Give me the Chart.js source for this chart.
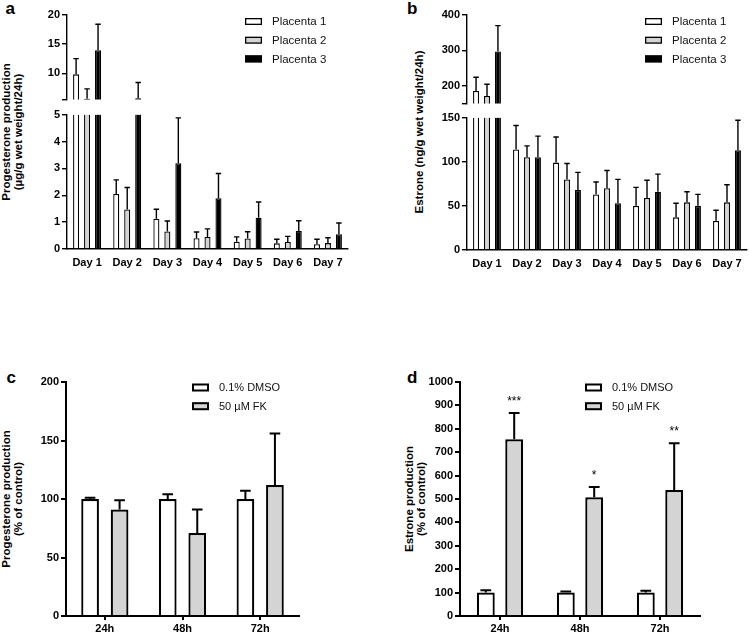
<!DOCTYPE html>
<html>
<head>
<meta charset="utf-8">
<script src="https://cdn.jsdelivr.net/npm/chart.js@4.4.1/dist/chart.umd.min.js"></script>
<style>
body { margin:0; background:#fff; width:749px; height:633px; overflow:hidden; position:relative;
       font-family:"Liberation Sans", Arial, sans-serif; color:#000; }
canvas { position:absolute; }
.letter { position:absolute; font-weight:bold; font-size:17px; line-height:17px; }
.ytitle { position:absolute; font-weight:bold; font-size:11.5px; line-height:11.5px; text-align:center;
          white-space:nowrap; transform:translate(-50%,-50%) rotate(-90deg); }
</style>
</head>
<body>
<div class="letter" style="left:5.5px;top:0px">a</div>
<div class="letter" style="left:407px;top:0px">b</div>
<div class="letter" style="left:6.5px;top:369px">c</div>
<div class="letter" style="left:407px;top:369px">d</div>
<div class="ytitle" style="left:11.5px;top:132px">Progesterone production<br>(µg/g wet weight/24h)</div>
<div class="ytitle" style="left:420px;top:132px">Estrone (ng/g wet weight/24h)</div>
<div class="ytitle" style="left:12px;top:499px">Progesterone production<br>(% of control)</div>
<div class="ytitle" style="left:414.5px;top:499px">Estrone production<br>(% of control)</div>
<script>
// ---- data (mean and SD) ----
var days = ["Day 1", "Day 2", "Day 3", "Day 4", "Day 5", "Day 6", "Day 7"];
var placentas = ["Placenta 1", "Placenta 2", "Placenta 3"];

// a: progesterone, µg/g wet weight/24h
var progP1 = [9.8, 2.05, 1.13, 0.40, 0.27, 0.21, 0.18];
var progP2 = [5.6, 1.47, 0.65, 0.45, 0.39, 0.26, 0.22];
var progP3 = [13.95, 5.7, 3.19, 1.89, 1.16, 0.67, 0.55];
var progP1Sd = [2.7, 0.52, 0.35, 0.23, 0.18, 0.15, 0.18];
var progP2Sd = [1.7, 0.82, 0.39, 0.30, 0.25, 0.21, 0.20];
var progP3Sd = [4.45, 2.7, 1.69, 0.92, 0.59, 0.38, 0.42];

// b: estrone, ng/g wet weight/24h
var estP1 = [185, 114, 99, 63, 50, 37, 33];
var estP2 = [171, 105, 80, 70, 59, 54, 54];
var estP3 = [297, 105, 68, 53, 66, 50, 113];
var estP1Sd = [39, 27, 29, 14, 21, 16, 12];
var estP2Sd = [33, 13, 18, 20, 20, 12, 20];
var estP3Sd = [73, 24, 20, 27, 20, 13, 34];

// c, d: % of control
var hours = ["24h", "48h", "72h"];
var treatments = ["0.1% DMSO", "50 µM FK"];
var progDMSO = [100, 100, 100];
var progDMSOSd = [1, 4, 7];
var progFK = [91, 71, 112];
var progFKSd = [8, 20, 44];
var estDMSO = [100, 100, 100];
var estDMSOSd = [10, 5, 8];
var estFK = [755, 507, 538];
var estFKSd = [112, 44, 200];
var estFKStars = ["***", "*", "**"];

// axis ticks
var progLowTicks = [0, 1, 2, 3, 4, 5];
var progHighTicks = [5.5, 10, 15, 20];
var estLowTicks = [0, 50, 100, 150];
var estHighTicks = [150, 200, 300, 400];
var pctTicksC = [0, 50, 100, 150, 200];
var pctTicksD = [0, 100, 200, 300, 400, 500, 600, 700, 800, 900, 1000];

var FONT = '"Liberation Sans", Arial, sans-serif';
var AXIS_W = 42;
var WHITE = "#ffffff", GREY = "#d4d4d4", BLACK = "#000000";

// error bars drawn up from each bar top
var errorBars = {
  id: "errorBars",
  afterDatasetsDraw: function(chart, args, opts) {
    var ctx = chart.ctx;
    chart.data.datasets.forEach(function(ds, i) {
      if (!ds.sd) return;
      var meta = chart.getDatasetMeta(i);
      var ys = chart.scales[meta.yAxisID];
      meta.data.forEach(function(bar, j) {
        var m = ds.mean[j];
        if (m < ys.min || m > ys.max) return;
        var y0 = ys.getPixelForValue(m);
        var y1 = ys.getPixelForValue(m + ds.sd[j]);
        var cw = bar.width * opts.cap / 2;
        ctx.save();
        ctx.strokeStyle = "#000";
        ctx.lineWidth = opts.width;
        ctx.beginPath();
        ctx.moveTo(bar.x, y0);
        ctx.lineTo(bar.x, y1);
        ctx.moveTo(bar.x - cw, y1);
        ctx.lineTo(bar.x + cw, y1);
        ctx.stroke();
        if (ds.stars) {
          ctx.fillStyle = "#000";
          ctx.font = "12px " + FONT;
          ctx.textAlign = "center";
          ctx.textBaseline = "alphabetic";
          ctx.fillText(ds.stars[j], bar.x, y1 - 8);
        }
        ctx.restore();
      });
    });
  }
};

// legend boxes at fixed page positions
var boxLegend = {
  id: "boxLegend",
  afterDraw: function(chart, args, opts) {
    if (!opts || !opts.x) return;
    var ctx = chart.ctx;
    var ox = chart.canvas.offsetLeft, oy = chart.canvas.offsetTop;
    chart.data.datasets.forEach(function(ds, i) {
      var cy = opts.y + i * opts.gap - oy;
      var bx = opts.x - ox;
      ctx.save();
      ctx.fillStyle = ds.backgroundColor;
      ctx.fillRect(bx, cy - opts.bh / 2, opts.bw, opts.bh);
      ctx.strokeStyle = "#000";
      ctx.lineWidth = opts.lw;
      ctx.strokeRect(bx + opts.lw / 2, cy - opts.bh / 2 + opts.lw / 2, opts.bw - opts.lw, opts.bh - opts.lw);
      ctx.fillStyle = "#111";
      ctx.font = opts.size + "px " + FONT;
      ctx.textBaseline = "middle";
      ctx.fillText(ds.label, bx + opts.tx, cy + 0.5);
      ctx.restore();
    });
  }
};

// bars above "hi" are cut at the break and drawn without a top edge
function makeSets(names, means, sds, colors, lo, hi, bw) {
  return names.map(function(n, k) {
    return {
      label: n,
      data: means[k].map(function(v) { return v > hi ? hi : (v < lo ? null : v); }),
      mean: means[k],
      sd: sds[k],
      backgroundColor: colors[k],
      borderColor: "#000",
      borderWidth: function(ctx) {
        var v = means[k][ctx.dataIndex];
        return v > hi ? { left: bw, right: bw, top: 0, bottom: 0 } : bw;
      }
    };
  });
}

function makeChart(c) {
  var L = c.area[0], T = c.area[1], R = c.area[2], B = c.area[3];
  var padR = 2;
  var xH = c.showX ? c.xHeight : 0;
  var left = L - AXIS_W, top = T - c.padTop;
  var w = R + padR - left, h = B + xH + c.padBottom - top;
  var cv = document.createElement("canvas");
  cv.width = w; cv.height = h;
  cv.style.left = left + "px"; cv.style.top = top + "px";
  cv.style.width = w + "px"; cv.style.height = h + "px";
  document.body.appendChild(cv);
  var tickFont = { family: FONT, weight: "bold", size: 11 };
  return new Chart(cv, {
    type: "bar",
    data: { labels: c.labels, datasets: c.datasets },
    options: {
      responsive: false,
      animation: false,
      layout: { padding: { left: 0, right: padR, top: c.padTop, bottom: c.padBottom } },
      datasets: { bar: { categoryPercentage: c.catPct, barPercentage: c.barPct } },
      plugins: {
        legend: { display: false },
        tooltip: { enabled: false },
        errorBars: { width: c.lw, cap: c.cap },
        boxLegend: c.legend || {}
      },
      scales: {
        x: {
          display: c.showX,
          grid: { display: c.xTicks, drawOnChartArea: false, drawTicks: c.xTicks, tickLength: 4,
                  offset: false, color: "#000", lineWidth: c.lw },
          border: { display: true, color: "#000", width: c.lw },
          ticks: { color: "#000", font: tickFont, padding: c.xPad, maxRotation: 0, autoSkip: false },
          afterFit: function(s) { s.height = xH; }
        },
        y: {
          min: c.yTicks[0],
          max: c.yTicks[c.yTicks.length - 1],
          afterBuildTicks: function(s) { s.ticks = c.yTicks.map(function(v) { return { value: v }; }); },
          grid: { drawOnChartArea: false, drawTicks: true, tickLength: 5, color: "#000", lineWidth: c.lw },
          border: { display: true, color: "#000", width: c.lw },
          ticks: { color: "#000", font: tickFont, padding: 2,
                   callback: function(v) { return v === c.hideTick ? "" : v; } },
          afterFit: function(s) { s.width = AXIS_W; }
        }
      }
    },
    plugins: [errorBars, boxLegend]
  });
}

var pColors = [WHITE, GREY, BLACK];

// panel a (broken axis: two stacked charts)
makeChart({
  area: [67, 15, 348, 101], padTop: 10, padBottom: 7, showX: false, labels: days,
  datasets: makeSets(placentas, [progP1, progP2, progP3], [progP1Sd, progP2Sd, progP3Sd], pColors, 5.5, 20, 1.3),
  yTicks: progHighTicks, hideTick: 5.5, catPct: 0.82, barPct: 0.55, lw: 1.4, cap: 0.9,
  legend: { x: 245, y: 21.5, gap: 18.7, bw: 17, bh: 7, lw: 1.3, tx: 27, size: 11.5 }
});
makeChart({
  area: [67, 114, 348, 249], padTop: 8, padBottom: 2, showX: true, xHeight: 30, xTicks: false, xPad: 7,
  labels: days,
  datasets: makeSets(placentas, [progP1, progP2, progP3], [progP1Sd, progP2Sd, progP3Sd], pColors, -1, 5, 1.3),
  yTicks: progLowTicks, catPct: 0.82, barPct: 0.55, lw: 1.4, cap: 0.9
});

// panel b
makeChart({
  area: [467, 15, 747, 105], padTop: 10, padBottom: 7, showX: false, labels: days,
  datasets: makeSets(placentas, [estP1, estP2, estP3], [estP1Sd, estP2Sd, estP3Sd], pColors, 150, 400, 1.3),
  yTicks: estHighTicks, hideTick: 150, catPct: 0.82, barPct: 0.55, lw: 1.4, cap: 0.9,
  legend: { x: 645, y: 21.5, gap: 18.7, bw: 17, bh: 7, lw: 1.3, tx: 27, size: 11.5 }
});
makeChart({
  area: [467, 117, 747, 250], padTop: 8, padBottom: 2, showX: true, xHeight: 30, xTicks: false, xPad: 7,
  labels: days,
  datasets: makeSets(placentas, [estP1, estP2, estP3], [estP1Sd, estP2Sd, estP3Sd], pColors, -1, 150, 1.3),
  yTicks: estLowTicks, catPct: 0.82, barPct: 0.55, lw: 1.4, cap: 0.9
});

// panel c
makeChart({
  area: [66, 382, 299, 616], padTop: 10, padBottom: 0, showX: true, xHeight: 17, xTicks: true, xPad: 2,
  labels: hours,
  datasets: makeSets(treatments, [progDMSO, progFK], [progDMSOSd, progFKSd], [WHITE, GREY], -1, 200, 2.2),
  yTicks: pctTicksC, catPct: 0.76, barPct: 0.6, lw: 2, cap: 0.6,
  legend: { x: 192, y: 387.5, gap: 18.7, bw: 17, bh: 8, lw: 2, tx: 27, size: 11 }
});

// panel d
var dSets = makeSets(treatments, [estDMSO, estFK], [estDMSOSd, estFKSd], [WHITE, GREY], -1, 1000, 2.2);
dSets[1].stars = estFKStars;
makeChart({
  area: [460, 382, 700, 616], padTop: 10, padBottom: 0, showX: true, xHeight: 17, xTicks: true, xPad: 2,
  labels: hours, datasets: dSets,
  yTicks: pctTicksD, catPct: 0.71, barPct: 0.63, lw: 2, cap: 0.6,
  legend: { x: 585, y: 387.5, gap: 18.7, bw: 17, bh: 8, lw: 2, tx: 27, size: 11 }
});
</script>
</body>
</html>
